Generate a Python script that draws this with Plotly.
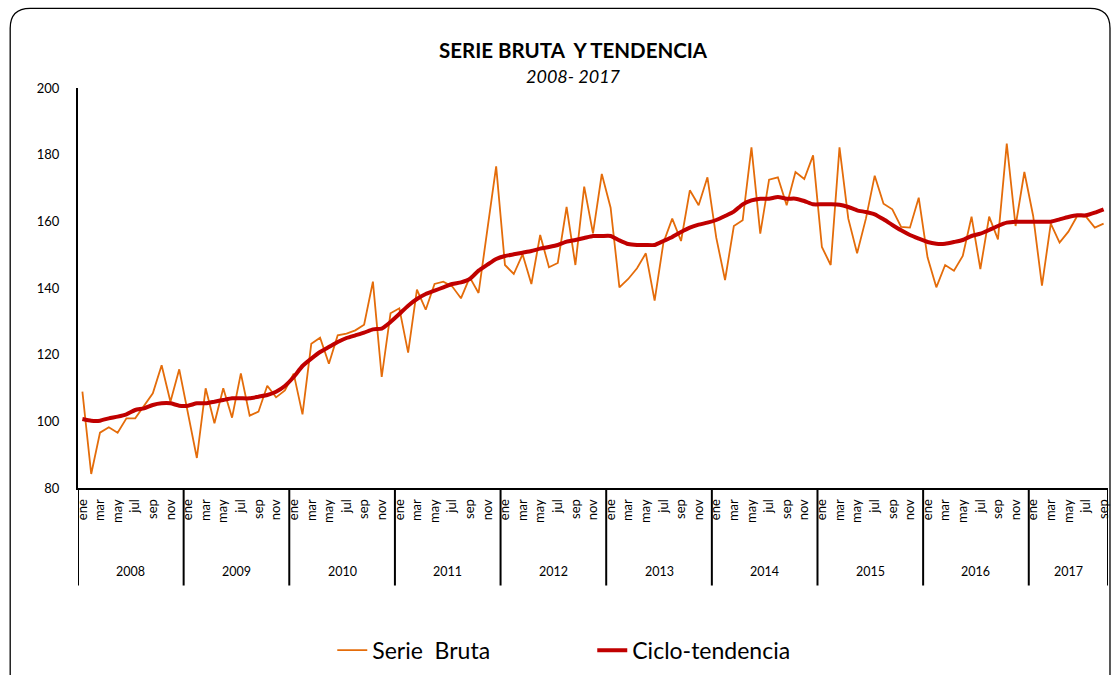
import plotly.graph_objects as go

# ---------------- data ----------------
years = ["2008", "2009", "2010", "2011", "2012", "2013", "2014", "2015", "2016", "2017"]
months = ["ene", "feb", "mar", "abr", "may", "jun", "jul", "ago", "sep", "oct", "nov", "dic"]

serie_bruta = [
    108.9, 84.2, 96.6, 98.2, 96.6, 100.9, 100.9, 104.5, 108.4, 116.8, 105.9, 115.6,   # 2008
    102.0, 89.0, 109.9, 99.4, 109.9, 101.1, 114.4, 101.7, 102.9, 110.7, 107.2, 109.3,  # 2009
    114.3, 102.1, 123.3, 125.1, 117.3, 125.8, 126.3, 127.3, 129.0, 141.9, 113.3, 132.4,  # 2010
    133.9, 120.6, 139.5, 133.5, 141.2, 141.9, 140.5, 136.9, 143.2, 138.5, 157.5, 176.5,  # 2011
    146.9, 144.2, 150.1, 141.2, 155.9, 146.2, 147.5, 164.3, 146.9, 170.4, 156.4, 174.2,  # 2012
    164.1, 140.2, 142.7, 145.9, 150.4, 136.2, 153.6, 160.8, 154.1, 169.3, 164.8, 173.2,  # 2013
    155.1, 142.4, 158.6, 160.3, 182.2, 156.3, 172.5, 173.2, 164.8, 174.8, 172.7, 179.8,  # 2014
    152.3, 146.9, 182.2, 160.8, 150.4, 160.8, 173.7, 165.3, 163.6, 158.3, 158.1, 167.1,  # 2015
    149.2, 140.2, 146.9, 145.2, 149.6, 161.4, 145.7, 161.4, 154.6, 183.3, 158.6, 174.8,  # 2016
    161.6, 140.7, 159.3, 153.6, 156.9, 161.6, 161.4, 158.1, 159.3,                      # 2017
]

ciclo_tendencia = [
    100.7, 100.2, 100.2, 100.9, 101.4, 102.1, 103.4, 103.9, 104.9, 105.4, 105.4, 104.7,  # 2008
    104.7, 105.4, 105.4, 105.9, 106.4, 106.9, 106.9, 106.9, 107.4, 107.9, 108.9, 110.6,  # 2009
    113.3, 116.6, 118.8, 120.8, 122.3, 123.8, 125.0, 125.8, 126.6, 127.6, 127.8, 129.8,  # 2010
    132.2, 134.7, 136.7, 138.2, 139.2, 140.2, 141.2, 141.7, 142.7, 145.2, 147.0, 148.7,  # 2011
    149.6, 150.1, 150.6, 151.1, 151.8, 152.3, 152.9, 153.9, 154.4, 155.0, 155.6, 155.6,  # 2012
    155.6, 154.3, 153.2, 152.9, 152.9, 152.9, 154.1, 155.3, 156.8, 158.1, 159.0, 159.6,  # 2013
    160.4, 161.6, 162.9, 165.1, 166.3, 166.8, 166.8, 167.3, 166.8, 166.8, 166.1, 165.1,  # 2014
    165.1, 165.1, 165.0, 164.3, 163.3, 162.8, 162.1, 160.6, 158.9, 157.3, 155.9, 154.8,  # 2015
    153.8, 153.3, 153.3, 153.8, 154.4, 155.6, 156.3, 157.4, 158.6, 159.6, 159.9, 159.9,  # 2016
    159.9, 159.9, 159.9, 160.6, 161.3, 161.8, 161.8, 162.6, 163.6,                      # 2017
]

y_ticks = [80, 100, 120, 140, 160, 180, 200]

# ---------------- derived ----------------
n = len(serie_bruta)
x_idx = list(range(n))
tick_vals = [i for i in x_idx if i % 2 == 0]
tick_text = [months[i % 12] for i in tick_vals]

FONT = "Lato, Carlito, Calibri, sans-serif"
ORANGE = "#E46C0A"
RED = "#C00000"

fig = go.Figure()
fig.add_trace(go.Scatter(x=x_idx, y=serie_bruta, mode="lines", name="Serie  Bruta",
                         line=dict(color=ORANGE, width=1.8)))
fig.add_trace(go.Scatter(x=x_idx, y=ciclo_tendencia, mode="lines", name="Ciclo-tendencia",
                         line=dict(color=RED, width=4, shape="spline", smoothing=0.5)))

W, H = 1115, 675
L, R, T, B = 78, 4, 88, 185
pw, ph = W - L - R, H - T - B


def px_to_paper_x(px):
    return (px - L) / pw


def px_to_paper_y(py):
    return (H - B - py) / ph


shapes = []
# year dividers
div_bottom = px_to_paper_y(588)
for k in range(len(years) + 1):
    xv = min(k * 12, n) - 0.5
    shapes.append(dict(type="line", xref="x", yref="paper", x0=xv, x1=xv,
                       y0=0, y1=div_bottom, line=dict(color="black", width=2)))

# rounded outer border
lx, rx = px_to_paper_x(10), px_to_paper_x(1113)
ty, by = px_to_paper_y(8), px_to_paper_y(690)
rxr, ryr = 20 / pw, 20 / ph
path = (f"M {lx},{by} L {lx},{ty - ryr} Q {lx},{ty} {lx + rxr},{ty} "
        f"L {rx - rxr},{ty} Q {rx},{ty} {rx},{ty - ryr} L {rx},{by}")
shapes.append(dict(type="path", xref="paper", yref="paper", path=path,
                   line=dict(color="black", width=1.3)))

annotations = []
year_y = px_to_paper_y(574)
for k, yr in enumerate(years):
    start = k * 12 - 0.5
    end = min((k + 1) * 12, n) - 0.5
    annotations.append(dict(x=(start + end) / 2, y=year_y, xref="x", yref="paper",
                            text=yr, showarrow=False, yanchor="middle",
                            font=dict(family=FONT, size=12.5, color="black")))

annotations.append(dict(x=px_to_paper_x(575), y=px_to_paper_y(50), xref="paper", yref="paper",
                        text="<b>SERIE BRUTA  Y TENDENCIA</b>", showarrow=False,
                        yanchor="middle", font=dict(family=FONT, size=20.5, color="black")))
annotations.append(dict(x=px_to_paper_x(575), y=px_to_paper_y(76), xref="paper", yref="paper",
                        text="<i>2008- 2017</i>", showarrow=False,
                        yanchor="middle", font=dict(family=FONT, size=18, color="black")))

fig.update_layout(
    width=W, height=H,
    margin=dict(l=L, r=R, t=T, b=B),
    paper_bgcolor="white", plot_bgcolor="white",
    font=dict(family=FONT, color="black"),
    shapes=shapes, annotations=annotations,
    showlegend=True,
    legend=dict(orientation="h", x=px_to_paper_x(333), xanchor="left",
                y=px_to_paper_y(653), yanchor="middle",
                font=dict(family=FONT, size=23, color="black"),
                entrywidth=215, bgcolor="rgba(0,0,0,0)"),
    xaxis=dict(range=[-0.5, n - 0.5], showgrid=False, zeroline=False,
               showline=True, linecolor="black", linewidth=2,
               tickmode="array", tickvals=tick_vals, ticktext=tick_text,
               tickangle=-90, ticks="", ticklabelstandoff=4,
               tickfont=dict(family=FONT, size=13, color="black")),
    yaxis=dict(range=[80, 200], showgrid=False, zeroline=False,
               showline=True, linecolor="black", linewidth=2,
               tickmode="array", tickvals=y_ticks, ticks="",
               ticklabelstandoff=14,
               tickfont=dict(family=FONT, size=13, color="black")),
)

fig.write_html(
    "out.html",
    config={"displayModeBar": False},
    post_script="document.body.style.margin='0';document.body.style.overflow='hidden';"
                "document.documentElement.style.overflow='hidden';",
)
